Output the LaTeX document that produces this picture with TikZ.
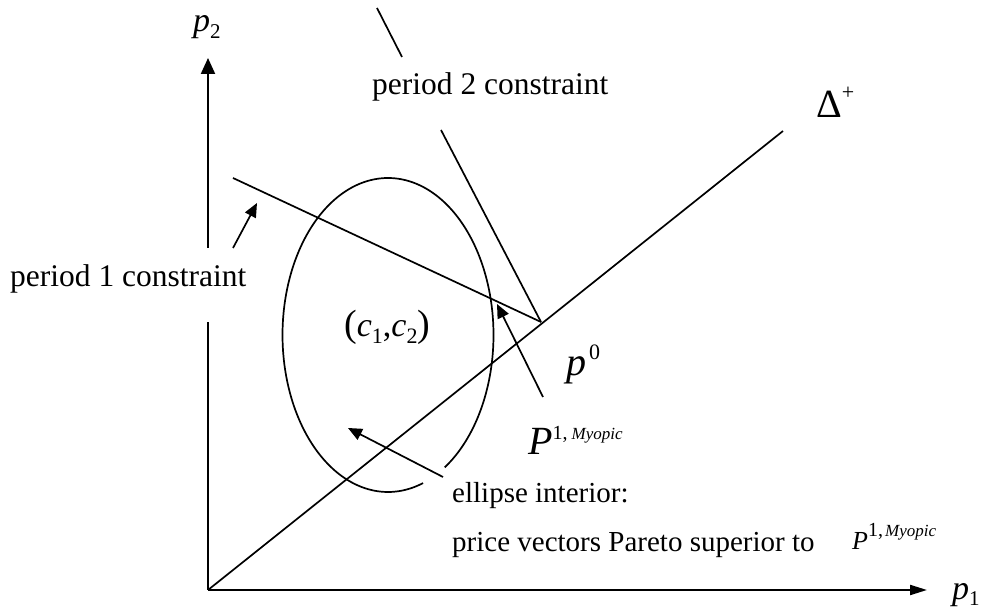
\documentclass[tikz,border=0pt]{standalone}
\usepackage{fontspec}
\setmainfont{Liberation Serif}
\usetikzlibrary{arrows.meta}
\begin{document}
\begin{tikzpicture}[x=1pt,y=1pt,
  ln/.style={line width=1.7pt},
  ax/.style={line width=2.1pt},
  axtip/.style={-{Triangle[length=16pt,width=14pt]}},
  xtip/.style={-{Triangle[length=17pt,width=10pt]}},
  smalltip/.style={-{Triangle[length=14pt,width=12pt]}},
  lbl/.style={inner sep=0pt, anchor=base west, font=\fontsize{31.5}{31.5}\selectfont},
  lblb/.style={inner sep=0pt, anchor=base west, font=\fontsize{29}{29}\selectfont},
  mth/.style={inner sep=0pt, anchor=base west},
]
\useasboundingbox (0,0) rectangle (990,612);
% axes
\coordinate (O) at (208,22);
\coordinate (ygapB) at (208,290);
\coordinate (ygapT) at (208,364);
\coordinate (ytop) at (208,554);
\coordinate (xend) at (927,22);
\draw[ax] (O) -- (ygapB);
\draw[ax,axtip] (ygapT) -- (ytop);
\draw[ax,xtip] (O) -- (xend);
% diagonal
\coordinate (dend) at (783,481);
\draw[ln] (O) -- (dend);
% constraints
\coordinate (p0) at (541,290);
\coordinate (c1s) at (233,434);
\coordinate (c2s) at (441,482);
\coordinate (c2a) at (377,604);
\coordinate (c2b) at (402,555);
\draw[ln] (c1s) -- (p0);
\draw[ln] (c2s) -- (p0);
\draw[ln] (c2a) -- (c2b);
% ellipse (with gap under the label)
\draw[ln,domain=-57.5:289.4,samples=240,smooth,variable=\t]
  plot ({388+105.5*cos(\t)},{277+157*sin(\t)});
% labels
\node[mth] (lp2) at (193,580) {{\fontsize{34}{34}\selectfont\textit{p}}\raisebox{-7pt}{\fontsize{21}{21}\selectfont 2}};
\node[mth] (lp1) at (952,12) {{\fontsize{34}{34}\selectfont\textit{p}}\raisebox{-6pt}{\fontsize{21}{21}\selectfont 1}};
\node[mth] (ldelta) at (816,494) {{\fontsize{40}{40}\selectfont Δ}\raisebox{18pt}{\fontsize{22}{22}\selectfont +}};
\node[lbl] (lper2) at (372,517) {period 2 constraint};
\node[lbl] (lper1) at (10,325) {period 1 constraint};
\node[mth] (lc) at (344,275) {{\fontsize{38}{38}\selectfont (}{\fontsize{34}{34}\selectfont\textit{c}}\raisebox{-7pt}{\fontsize{22}{22}\selectfont 1}{\fontsize{34}{34}\selectfont ,\textit{c}}\raisebox{-7pt}{\fontsize{22}{22}\selectfont 2}{\fontsize{38}{38}\selectfont )}};
\node[mth] (lp0) at (566,236) {{\fontsize{40}{40}\selectfont\textit{p}}\kern3pt\raisebox{16pt}{\fontsize{22}{22}\selectfont 0}};
\node[mth] (lpm) at (528,157) {{\fontsize{40}{40}\selectfont\textit{P}}\raisebox{15pt}{\fontsize{20}{20}\selectfont 1,\kern4pt\fontsize{17}{17}\selectfont\textit{Myopic}}};
\node[lblb] (lell) at (452,109) {ellipse interior:};
\node[lblb] (lpv) at (452,60) {price vectors Pareto superior to};
\node[mth] (lpm2) at (852,62) {{\fontsize{26}{26}\selectfont\textit{P}}\raisebox{13pt}{\fontsize{20}{20}\selectfont 1,\kern2pt\fontsize{17}{17}\selectfont\textit{Myopic}}};
% pointer arrows
\coordinate (a1s) at (233,364);
\coordinate (a1e) at (257,409);
\draw[ln,smalltip] (a1s) -- (a1e);
\coordinate (a2s) at (543,215);
\coordinate (a2e) at (497,308);
\draw[ln,smalltip] (a2s) -- (a2e);
\coordinate (a3s) at (443,135);
\coordinate (a3e) at (348,184);
\draw[ln,smalltip] (a3s) -- (a3e);
\end{tikzpicture}
\end{document}
